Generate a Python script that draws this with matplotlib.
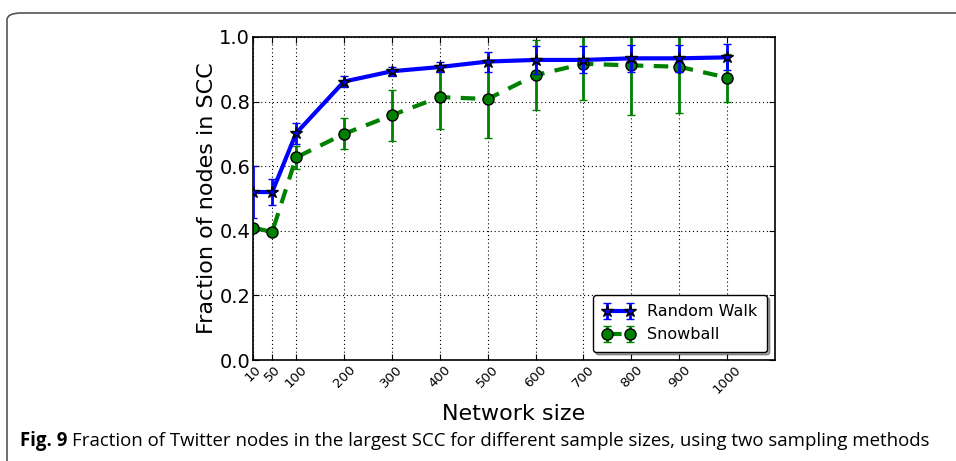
import matplotlib
matplotlib.use("Agg")
import matplotlib.pyplot as plt
from matplotlib.patches import FancyBboxPatch

# Sample sizes (network sizes)
sizes = [10, 50, 100, 200, 300, 400, 500, 600, 700, 800, 900, 1000]
x_ticklabels = [str(s) for s in sizes]

# Fraction of nodes in the largest SCC, Random Walk sampling
rw_mean = [0.520, 0.520, 0.702, 0.862, 0.894, 0.907, 0.924, 0.929, 0.929, 0.934, 0.934, 0.937]
rw_err = [0.080, 0.040, 0.032, 0.016, 0.014, 0.015, 0.031, 0.043, 0.042, 0.041, 0.041, 0.040]

# Fraction of nodes in the largest SCC, Snowball sampling
sb_mean = [0.410, 0.396, 0.627, 0.700, 0.758, 0.814, 0.808, 0.882, 0.917, 0.912, 0.908, 0.874]
sb_err = [0.0, 0.0, 0.036, 0.048, 0.079, 0.100, 0.120, 0.108, 0.113, 0.153, 0.142, 0.074]

W, H = 956, 461
fig = plt.figure(figsize=(W / 100, H / 100), dpi=100)

# Outer rounded frame
frame = FancyBboxPatch((7 / W, -0.2), 1.2, (H - 13) / H + 0.2,
                       boxstyle="round,pad=0,rounding_size=0.015",
                       transform=fig.transFigure, fill=False,
                       edgecolor="#555555", linewidth=1.2, clip_on=False)
fig.patches.append(frame)

ax = fig.add_axes([253 / W, 1 - 360 / H, (775 - 253) / W, (360 - 37) / H])

ax.errorbar(sizes, rw_mean, yerr=rw_err, color="b", linestyle="-", linewidth=3,
            marker="*", markersize=9, markerfacecolor="b", markeredgecolor="k",
            markeredgewidth=1, elinewidth=2, capsize=3, capthick=1.5,
            label="Random Walk", zorder=3)
ax.errorbar(sizes, sb_mean, yerr=sb_err, color="g", linestyle="--", linewidth=3,
            dashes=(3.5, 2.5), marker="o", markersize=8, markerfacecolor="g",
            markeredgecolor="k", markeredgewidth=1, elinewidth=2, capsize=3,
            capthick=1.5, label="Snowball", zorder=2)

ax.set_xlim(10, 1100)
ax.set_ylim(0.0, 1.0)
ax.set_xticks(sizes)
ax.set_xticklabels(x_ticklabels, rotation=45, fontsize=9.5)
ax.set_yticks([0.0, 0.2, 0.4, 0.6, 0.8, 1.0])
ax.set_yticklabels(["0.0", "0.2", "0.4", "0.6", "0.8", "1.0"], fontsize=14)
ax.tick_params(direction="in", length=4, top=True, right=True, pad=2)
ax.grid(True, color="k", linestyle=(0, (1, 2.5)), linewidth=0.8)
for sp in ax.spines.values():
    sp.set_linewidth(1.2)

ax.set_xlabel("Network size", fontsize=16, labelpad=6)
ax.set_ylabel("Fraction of nodes in SCC", fontsize=16, labelpad=2)

leg = ax.legend(loc="lower right", fontsize=11.5, fancybox=True, shadow=True,
                framealpha=1, borderaxespad=0.5, handlelength=2.0,
                numpoints=2, borderpad=0.6)
leg.get_frame().set_edgecolor("k")

# Caption below the chart, scaled to span the frame width
cap_y = 1 - 441 / H
t1 = fig.text(20 / W, cap_y, "Fig. 9", fontsize=12, fontweight="bold",
              family="Open Sans", fontstretch="semi-condensed",
              va="center", ha="left")
t2 = fig.text(72 / W, cap_y,
              "Fraction of Twitter nodes in the largest SCC for different sample sizes, using two sampling methods",
              fontsize=12, family="Open Sans", fontstretch="semi-condensed",
              va="center", ha="left")
fig.canvas.draw()
r = fig.canvas.get_renderer()
bb = t2.get_window_extent(r)
target = 925 - 72
scale = target / bb.width
t2.set_fontsize(12 * scale)
t1.set_fontsize(12 * scale)

fig.savefig("out.png", dpi=100)
